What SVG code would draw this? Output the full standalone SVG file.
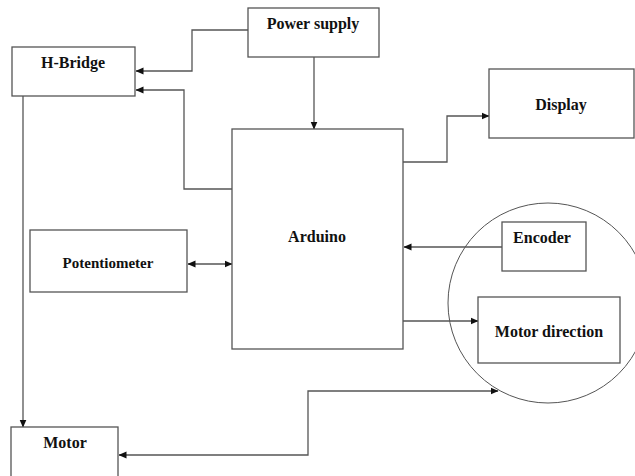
<svg xmlns="http://www.w3.org/2000/svg" width="635" height="476" viewBox="0 0 635 476">
<style>
.box{fill:#fff;stroke:#555;stroke-width:1.3}
.lbl{font-family:"Liberation Serif","Times New Roman",serif;font-weight:bold;font-size:16px;fill:#111;text-anchor:middle}
.c{fill:none;stroke:#555;stroke-width:1.3}
.circ{fill:none;stroke:#555;stroke-width:1}
</style>
<defs>
<marker id="ah" markerWidth="8" markerHeight="8" refX="7.5" refY="4" orient="auto-start-reverse" markerUnits="userSpaceOnUse">
<path d="M0,0.5 L8,4 L0,7.5 Z" fill="#111"/>
</marker>
</defs>
<rect width="635" height="476" fill="#fff"/>
<g id="connectors">
<path class="c" d="M248,30 H192 V71 H136" marker-end="url(#ah)"/>
<path class="c" d="M232,189 H184 V90 H136" marker-end="url(#ah)"/>
<path class="c" d="M314,57 V129" marker-end="url(#ah)"/>
<path class="c" d="M403,162 H447 V116 H489" marker-end="url(#ah)"/>
<path class="c" d="M23,96 V427" marker-end="url(#ah)"/>
<path class="c" d="M188,264 H232" marker-start="url(#ah)" marker-end="url(#ah)"/>
<path class="c" d="M502,247 H404" marker-end="url(#ah)"/>
<path class="c" d="M403,321 H478" marker-end="url(#ah)"/>
<path class="c" d="M498,391 H308 V455 H119" marker-start="url(#ah)" marker-end="url(#ah)"/>
</g>
<circle class="circ" cx="548" cy="303" r="100"/>
<g id="power-supply">
<rect class="box" x="248" y="8" width="131" height="49"/>
<text class="lbl" x="313" y="29">Power supply</text>
</g>
<g id="h-bridge">
<rect class="box" x="12" y="47" width="123" height="49"/>
<text class="lbl" x="73" y="68">H-Bridge</text>
</g>
<g id="display">
<rect class="box" x="489" y="69" width="145" height="69"/>
<text class="lbl" x="561" y="110">Display</text>
</g>
<g id="arduino">
<rect class="box" x="232" y="129" width="171" height="220"/>
<text class="lbl" x="317" y="242">Arduino</text>
</g>
<g id="potentiometer">
<rect class="box" x="30" y="230" width="157" height="62"/>
<text class="lbl" x="108" y="268" style="font-size:15px">Potentiometer</text>
</g>
<g id="encoder">
<rect class="box" x="502" y="222" width="84" height="49"/>
<text class="lbl" x="542" y="243">Encoder</text>
</g>
<g id="motor-direction">
<rect class="box" x="478" y="297" width="142" height="66"/>
<text class="lbl" x="549" y="337">Motor direction</text>
</g>
<g id="motor">
<rect class="box" x="11" y="427" width="107" height="60"/>
<text class="lbl" x="65" y="448">Motor</text>
</g>
</svg>
